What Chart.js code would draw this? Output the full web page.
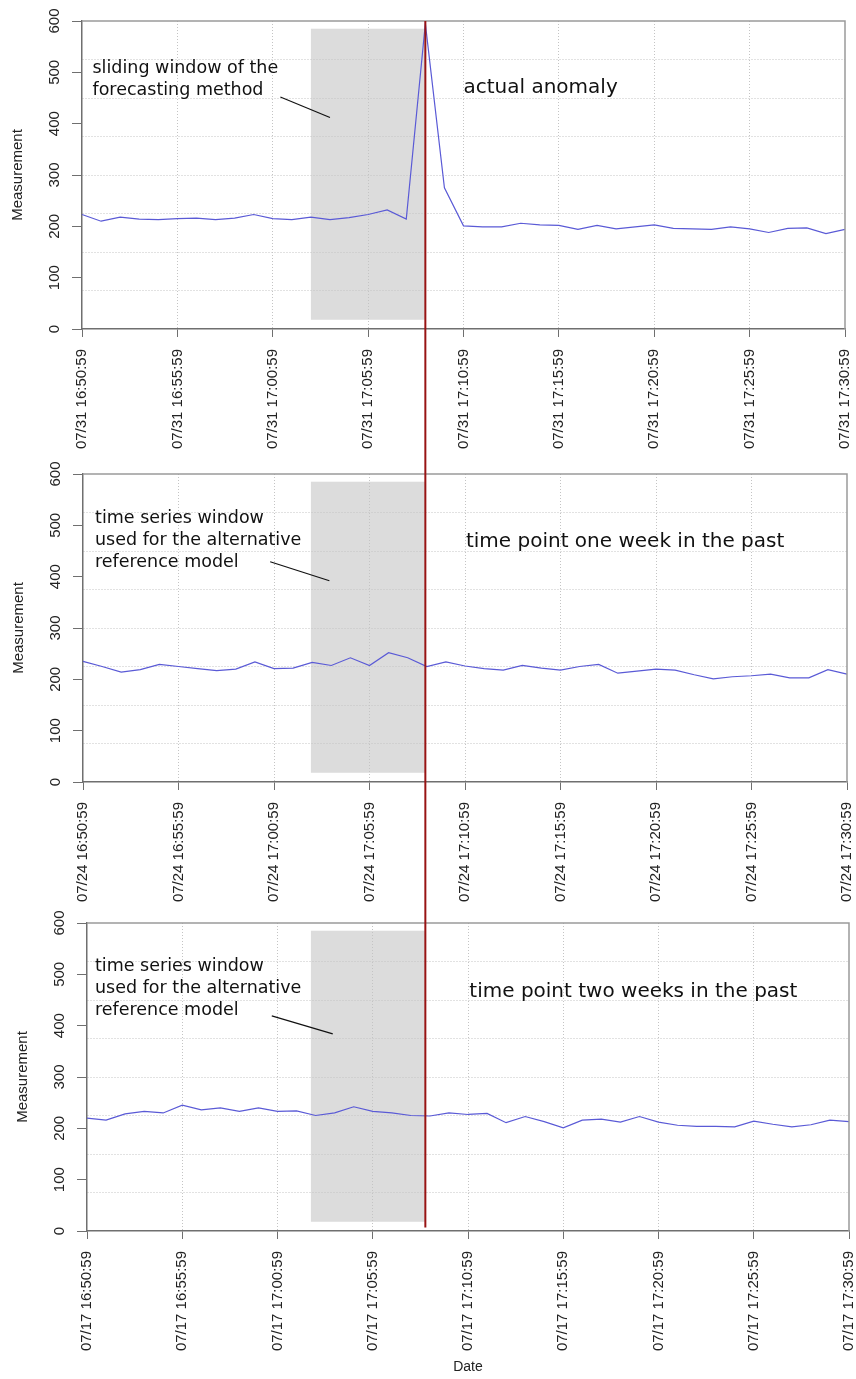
<!DOCTYPE html>
<html>
<head>
<meta charset="utf-8">
<title>Anomaly and reference windows</title>
<script src="https://cdn.jsdelivr.net/npm/chart.js@4.4.1/dist/chart.umd.min.js"></script>
<style>
  html, body { margin: 0; padding: 0; background: #fff; }
  #page { width: 856px; height: 1379px; overflow: hidden; }
  canvas { display: block; }
</style>
</head>
<body>
<div id="page">
  <canvas id="panel1" width="856" height="453"></canvas>
  <canvas id="panel2" width="856" height="449"></canvas>
  <canvas id="panel3" width="856" height="477"></canvas>
</div>
<script>
// sample times, one per minute
const times = [
    '16:50:59', '16:51:59', '16:52:59', '16:53:59', '16:54:59', '16:55:59', '16:56:59', '16:57:59',
    '16:58:59', '16:59:59', '17:00:59', '17:01:59', '17:02:59', '17:03:59', '17:04:59', '17:05:59',
    '17:06:59', '17:07:59', '17:08:59', '17:09:59', '17:10:59', '17:11:59', '17:12:59', '17:13:59',
    '17:14:59', '17:15:59', '17:16:59', '17:17:59', '17:18:59', '17:19:59', '17:20:59', '17:21:59',
    '17:22:59', '17:23:59', '17:24:59', '17:25:59', '17:26:59', '17:27:59', '17:28:59', '17:29:59',
    '17:30:59'
];
const dates = ['07/31', '07/24', '07/17'];

const currentWeek = [223, 210, 218, 214, 213, 215, 216, 213, 216, 223, 215, 213, 218, 213, 217, 223, 232, 214,
    595, 275, 201, 199, 199, 206, 203, 202, 194, 202, 195, 199, 203, 196, 195, 194, 199, 195, 188, 196, 197, 186, 194];
const oneWeekBack = [235, 225, 214, 219, 229, 225, 221, 217, 220, 234, 221, 222, 233, 227, 242, 227, 252, 242,
    225, 234, 226, 221, 218, 227, 222, 218, 225, 229, 212, 216, 220, 218, 209, 201, 205, 207, 210, 203, 203, 219, 210];
const twoWeeksBack = [220, 216, 228, 233, 230, 245, 236, 240, 233, 240, 233, 234, 225, 230, 242, 233, 230, 225,
    224, 230, 227, 229, 211, 223, 213, 201, 216, 218, 212, 223, 212, 206, 204, 204, 203, 214, 208, 203, 207, 216, 213];

const yMax = 600;
const labelStep = 100;   // y tick labels
const gridStep = 75;     // dotted horizontal grid
const timeStep = 5;      // minutes between x ticks
const windowStart = 12;  // 17:02:59
const anomalyIndex = 18; // 17:08:59
const shadeTop = 585;
const shadeBottom = 18;

const windowNotes = [
    ['sliding window of the', 'forecasting method'],
    ['time series window', 'used for the alternative', 'reference model'],
    ['time series window', 'used for the alternative', 'reference model']
];
const pointNotes = ['actual anomaly', 'time point one week in the past', 'time point two weeks in the past'];

const lineColor = '#5a5ad6';
const axisColor = '#6f6f6f';
const boxColor = '#9a9a9a';
const gridColor = '#c4c4c4';
const shadeColor = '#dcdcdc';
const markerColor = '#981414';
const clear = 'rgba(0,0,0,0)';

Chart.defaults.font.family = "'Liberation Sans', Arial, sans-serif";
Chart.defaults.color = '#222';

const charts = [];

// panel layout, note anchors are in data units (x = sample index, y = value)
const panels = [
    { id: 'panel1', date: dates[0], values: currentWeek, padLeft: 0, padRight: 11, xHeight: 124,
      noteAt: [0.55, 499], leader: [[10.4, 452], [13.0, 412]], pointAt: [20, 460],
      markerFromArea: true, markerTo: null, showDate: false },
    { id: 'panel2', date: dates[1], values: oneWeekBack, padLeft: 1, padRight: 9, xHeight: 120,
      noteAt: [0.63, 504], leader: [[9.8, 429], [12.9, 392]], pointAt: [20.05, 457],
      markerFromArea: false, markerTo: null, showDate: false },
    { id: 'panel3', date: dates[2], values: twoWeeksBack, padLeft: 5, padRight: 7, xHeight: 148,
      noteAt: [0.42, 506], leader: [[9.7, 419], [12.9, 384]], pointAt: [20.07, 455],
      markerFromArea: false, markerTo: 7, showDate: true }
];

const panelDecor = {
    id: 'panelDecor',
    beforeDraw(chart, args, opts) {
        // shaded window sits under the grid
        const ref = charts[0] || chart;
        const ctx = chart.ctx;
        const x0 = ref.scales.x.getPixelForValue(windowStart);
        const x1 = ref.scales.x.getPixelForValue(anomalyIndex);
        const yTop = chart.scales.y.getPixelForValue(shadeTop);
        const yBottom = chart.scales.y.getPixelForValue(shadeBottom);
        ctx.save();
        ctx.fillStyle = shadeColor;
        ctx.fillRect(x0, yTop, x1 - x0, yBottom - yTop);
        ctx.restore();
    },
    afterDraw(chart, args, opts) {
        const ctx = chart.ctx;
        const area = chart.chartArea;
        const xs = chart.scales.x;
        const ys = chart.scales.y;
        const i = opts.index;
        const p = panels[i];

        // top and right sides of the box
        ctx.save();
        ctx.strokeStyle = boxColor;
        ctx.lineWidth = 1.5;
        ctx.beginPath();
        ctx.moveTo(area.left, area.top);
        ctx.lineTo(area.right, area.top);
        ctx.lineTo(area.right, area.bottom);
        ctx.stroke();
        ctx.restore();

        // notes
        ctx.save();
        ctx.fillStyle = '#111';
        ctx.textAlign = 'left';
        ctx.textBaseline = 'alphabetic';
        ctx.font = "17.5px 'DejaVu Sans', sans-serif";
        const nx = xs.getPixelForValue(p.noteAt[0]);
        const ny = ys.getPixelForValue(p.noteAt[1]);
        windowNotes[i].forEach((line, k) => ctx.fillText(line, nx, ny + k * 22));
        ctx.font = "20px 'DejaVu Sans', sans-serif";
        ctx.fillText(pointNotes[i], xs.getPixelForValue(p.pointAt[0]), ys.getPixelForValue(p.pointAt[1]));
        ctx.strokeStyle = '#111';
        ctx.lineWidth = 1.2;
        ctx.beginPath();
        ctx.moveTo(xs.getPixelForValue(p.leader[0][0]), ys.getPixelForValue(p.leader[0][1]));
        ctx.lineTo(xs.getPixelForValue(p.leader[1][0]), ys.getPixelForValue(p.leader[1][1]));
        ctx.stroke();
        ctx.restore();

        // anomaly marker, one line through all three panels
        const ref = charts[0] || chart;
        const mx = ref.scales.x.getPixelForValue(anomalyIndex);
        const top = p.markerFromArea ? area.top : 0;
        const bottom = p.markerTo === null ? chart.height : ys.getPixelForValue(p.markerTo);
        ctx.save();
        ctx.strokeStyle = markerColor;
        ctx.lineWidth = 2;
        ctx.beginPath();
        ctx.moveTo(mx, top);
        ctx.lineTo(mx, bottom);
        ctx.stroke();
        ctx.restore();
    }
};

panels.forEach(function(p, i) {
    const chart = new Chart(document.getElementById(p.id), {
        type: 'line',
        data: {
            labels: times.map(t => p.date + ' ' + t),
            datasets: [{
                data: p.values,
                borderColor: lineColor,
                borderWidth: 1.2,
                pointRadius: 0,
                tension: 0,
                fill: false
            }]
        },
        options: {
            responsive: false,
            animation: false,
            events: [],
            layout: { padding: { top: 21, left: p.padLeft, right: p.padRight, bottom: 0 } },
            plugins: {
                legend: { display: false },
                tooltip: { enabled: false },
                panelDecor: { index: i }
            },
            scales: {
                x: {
                    type: 'category',
                    offset: false,
                    grid: {
                        offset: false,
                        color: c => (c.index % timeStep === 0 && c.index > 0 && c.index < times.length - 1) ? gridColor : clear,
                        tickColor: c => c.index % timeStep === 0 ? axisColor : clear,
                        tickLength: 8,
                        tickWidth: 1
                    },
                    border: { color: axisColor, width: 1.5, dash: [1, 2] },
                    ticks: {
                        autoSkip: false,
                        minRotation: 90,
                        maxRotation: 90,
                        padding: 12,
                        font: { size: 15 },
                        callback: function(v, idx) {
                            return idx % timeStep === 0 ? this.getLabelForValue(v) : '';
                        }
                    },
                    title: {
                        display: p.showDate,
                        text: 'Date',
                        font: { size: 14 },
                        padding: { top: 0, bottom: 3 }
                    },
                    afterFit: function(scale) {
                        scale.height = p.xHeight;
                        scale.paddingLeft = 0;
                        scale.paddingRight = 0;
                    }
                },
                y: {
                    min: 0,
                    max: yMax,
                    grid: {
                        color: c => (c.tick.value % gridStep === 0 && c.tick.value > 0 && c.tick.value < yMax) ? gridColor : clear,
                        tickColor: c => c.tick.value % labelStep === 0 ? axisColor : clear,
                        tickLength: 10,
                        tickWidth: 1
                    },
                    border: { color: axisColor, width: 1.5, dash: [1, 2] },
                    ticks: {
                        stepSize: 25,
                        autoSkip: false,
                        minRotation: 90,
                        maxRotation: 90,
                        crossAlign: 'center',
                        padding: 5,
                        font: { size: 15 },
                        callback: v => v % labelStep === 0 ? String(v) : ''
                    },
                    title: {
                        display: true,
                        text: 'Measurement',
                        font: { size: 15 },
                        padding: { top: 9, bottom: 0 }
                    },
                    afterFit: function(scale) {
                        scale.width = 82;
                        scale.paddingTop = 0;
                        scale.paddingBottom = 0;
                    }
                }
            }
        },
        plugins: [panelDecor]
    });
    charts.push(chart);
});
</script>
</body>
</html>
